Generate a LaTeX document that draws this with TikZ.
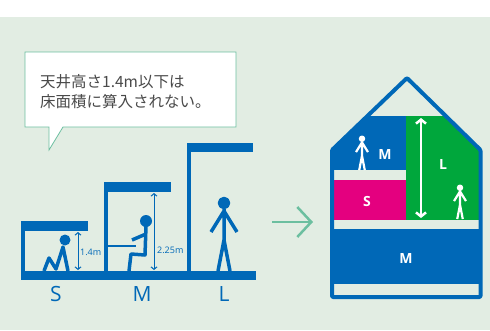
\documentclass[tikz,border=0pt]{standalone}
\usepackage{fontspec}
\setmainfont{Open Sans}
\newfontfamily\jpfont{Noto Sans CJK JP}
\usepackage{tikz}
\usetikzlibrary{arrows.meta}
\definecolor{wallblue}{HTML}{0068B7}
\definecolor{roomgreen}{HTML}{00A73C}
\definecolor{roompink}{HTML}{E4007F}
\definecolor{paper}{HTML}{E2EDE3}
\definecolor{mint}{HTML}{6CBFA0}
\definecolor{inktext}{HTML}{4A4A4A}
\tikzset{
	slab/.style={fill=wallblue},
	limb/.style={draw=wallblue, line width=3.5pt, line join=round},
	tinylimb/.style={draw=white, line width=2.2pt, line join=round},
	dimline/.style={draw=wallblue, line width=1pt,
		{Straight Barb[length=2.5pt,width=6pt]}-{Straight Barb[length=2.5pt,width=6pt]}},
	dimlabel/.style={wallblue, anchor=west, inner sep=0pt, font=\fontsize{9}{9}\selectfont},
	sizelabel/.style={wallblue, font=\fontsize{21}{21}\selectfont},
	roomlabel/.style={white, font=\bfseries\fontsize{14}{14}\selectfont},
}
% stick figure: feet position, scale, style, colour
\newcommand{\stickman}[4]{%
	\begin{scope}[shift={#1}, scale=#2]
		\draw[#3] (0,-62)--(0,-31) (-6,0)--(0,-31)--(6,0) (-13,-39)--(0,-60)--(13,-39);
		\filldraw[#3, fill=#4] (0,-68) circle (4.5);
	\end{scope}}

\begin{document}
\begin{tikzpicture}[x=1pt, y=-1pt]
	\useasboundingbox (0,0) rectangle (490,330);
	\fill[paper] (0,17) rectangle (490,330);

	% speech bubble
	\draw[mint, fill=white, line width=0.8pt] (25,52) -- (236,52) -- (236,127) -- (63,127)
		-- (49,150) -- (49,127) -- (25,127) -- cycle;
	\node[inktext, anchor=west, align=left, inner sep=0pt,
		font=\jpfont\fontsize{15.5}{20}\selectfont] (note) at (40,92)
		{天井高さ1.4m以下は\\床面積に算入されない。};

	% floor and three ceilings
	\fill[slab] (21,271) rectangle (256,280);
	\fill[slab] (21,221) rectangle (88,231);
	\fill[slab] (21,231) rectangle (25,271);
	\fill[slab] (104,182) rectangle (171,192);
	\fill[slab] (104,192) rectangle (108,271);
	\fill[slab] (187,143) rectangle (253,152);
	\fill[slab] (187,152) rectangle (191,271);

	% S: crouching
	\draw[limb] (44,271)--(49,258)--(56,269)--(63,247)--(68,271);
	\fill[wallblue] (65,240) circle (5.5);
	% M: seated at a desk
	\draw[wallblue, line width=2pt] (108,246)--(136,246);
	\draw[limb] (146,226)--(145,255)--(131,254)--(129,271);
	\draw[limb] (132,240)--(146,234);
	\fill[wallblue] (146,221) circle (6);
	% L: standing
	\stickman{(224,271)}{1}{limb}{wallblue}

	% heights
	\coordinate (s-top) at (78,232);
	\coordinate (s-bot) at (78,270);
	\coordinate (m-top) at (154,193);
	\coordinate (m-bot) at (154,270);
	\draw[dimline] (s-top) -- (s-bot);
	\draw[dimline] (m-top) -- (m-bot);
	\node[dimlabel] (s-h) at (80,252) {1.4m};
	\node[dimlabel] (m-h) at (157,250) {2.25m};

	\node[sizelabel] (tag-s) at (56,294) {S};
	\node[sizelabel] (tag-m) at (142,294) {M};
	\node[sizelabel] (tag-l) at (224,294) {L};

	% arrow to the house
	\coordinate (go-a) at (272,222);
	\coordinate (go-b) at (313,222);
	\draw[mint, line width=2.5pt, -{Straight Barb[length=14pt,width=30pt,line width=2.5pt]}] (go-a) -- (go-b);

	% house section
	\begin{scope}
		\clip (332,150) -- (407,78) -- (480.5,150) -- (480.5,297) -- (332,297) -- cycle;
		\fill[wallblue] (330,229) rectangle (482,284);
		\fill[roompink] (330,180) rectangle (406,220);
		\fill[wallblue] (330,116) rectangle (406,170);
		\fill[roomgreen] (406,116) rectangle (482,220);
	\end{scope}
	\draw[wallblue, line width=4pt, line join=round, rounded corners=1pt]
		(332,150) -- (407,78) -- (480.5,150) -- (480.5,297) -- (332,297) -- cycle;

	\coordinate (l-top) at (421,118);
	\coordinate (l-bot) at (421,218);
	\draw[white, line width=2.5pt, {Straight Barb[length=4pt,width=10pt]}-{Straight Barb[length=4pt,width=10pt]}] (l-top) -- (l-bot);
	\stickman{(460,219)}{0.46}{tinylimb}{white}
	\stickman{(362,170)}{0.46}{tinylimb}{white}

	\node[roomlabel] (room-m1) at (385,154) {M};
	\node[roomlabel] (room-l) at (443,164) {L};
	\node[roomlabel] (room-s) at (367,201) {S};
	\node[roomlabel] (room-m2) at (406,258) {M};
\end{tikzpicture}
\end{document}
